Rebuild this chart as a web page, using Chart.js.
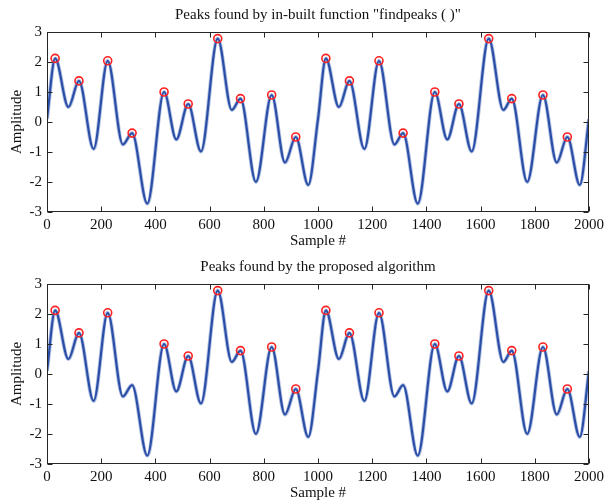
<!DOCTYPE html>
<html>
<head>
<meta charset="utf-8">
<script src="https://cdn.jsdelivr.net/npm/chart.js@4.4.1/dist/chart.umd.min.js"></script>
<style>
  html, body { margin: 0; padding: 0; background: #fff; }
  canvas { display: block; }
</style>
</head>
<body>
<canvas id="topChart" width="608" height="252"></canvas>
<canvas id="bottomChart" width="608" height="252"></canvas>
<script>
// Signal turning points (sample index, amplitude)
const sampleIdx = [0, 30, 79, 118, 172, 224, 280, 314, 370, 432, 477, 521, 568, 630, 682, 714, 771, 829, 878, 918, 964,
                   1000, 1029, 1077, 1116, 1171, 1225, 1282, 1314, 1368, 1431, 1477, 1520, 1567, 1630, 1684, 1715, 1772, 1830, 1881, 1920, 1966, 2000];
const amplitude = [0.1, 2.12, 0.5, 1.37, -0.9, 2.04, -0.75, -0.37, -2.72, 1.0, -0.58, 0.6, -0.98, 2.78, 0.4, 0.78, -2.0, 0.9, -1.35, -0.5, -2.1,
                   0.1, 2.12, 0.5, 1.37, -0.9, 2.04, -0.75, -0.37, -2.72, 1.0, -0.58, 0.6, -0.98, 2.78, 0.4, 0.78, -2.0, 0.9, -1.35, -0.5, -2.1, 0.1];

// peaks marked by findpeaks()
const topPeakIdx = [30, 118, 224, 314, 432, 521, 630, 714, 829, 918, 1029, 1116, 1225, 1314, 1431, 1520, 1630, 1715, 1830, 1920];
const topPeakAmp = [2.12, 1.37, 2.04, -0.37, 1.0, 0.6, 2.78, 0.78, 0.9, -0.5, 2.12, 1.37, 2.04, -0.37, 1.0, 0.6, 2.78, 0.78, 0.9, -0.5];

// peaks marked by the proposed algorithm
const botPeakIdx = [30, 118, 224, 432, 521, 630, 714, 829, 918, 1029, 1116, 1225, 1431, 1520, 1630, 1715, 1830, 1920];
const botPeakAmp = [2.12, 1.37, 2.04, 1.0, 0.6, 2.78, 0.78, 0.9, -0.5, 2.12, 1.37, 2.04, 1.0, 0.6, 2.78, 0.78, 0.9, -0.5];

const xTicks = [0, 200, 400, 600, 800, 1000, 1200, 1400, 1600, 1800, 2000];
const yTicks = [-3, -2, -1, 0, 1, 2, 3];

const serif = '"Liberation Serif", "Times New Roman", serif';

// axes box with inward ticks on all four sides, title centred over the axes
const frame = {
  id: 'frame',
  afterDatasetsDraw(chart, args, opts) {
    const { ctx, chartArea: a, scales } = chart;
    const L = Math.round(a.left) + 0.5, R = Math.round(a.right) - 0.5;
    const T = Math.round(a.top) + 0.5, B = Math.round(a.bottom) - 0.5;
    ctx.save();
    ctx.strokeStyle = '#262626';
    ctx.lineWidth = 1;
    ctx.strokeRect(L, T, R - L, B - T);
    ctx.beginPath();
    scales.x.ticks.forEach(t => {
      const px = Math.round(scales.x.getPixelForValue(t.value)) + 0.5;
      ctx.moveTo(px, B); ctx.lineTo(px, B - 5);
      ctx.moveTo(px, T); ctx.lineTo(px, T + 5);
    });
    scales.y.ticks.forEach(t => {
      const py = Math.round(scales.y.getPixelForValue(t.value)) + 0.5;
      ctx.moveTo(L, py); ctx.lineTo(L + 5, py);
      ctx.moveTo(R, py); ctx.lineTo(R - 5, py);
    });
    ctx.stroke();
    ctx.fillStyle = '#111';
    ctx.font = '15px ' + serif;
    ctx.textAlign = 'center';
    ctx.textBaseline = 'middle';
    ctx.fillText(opts.text, (a.left + a.right) / 2, 15);
    ctx.restore();
  }
};

function makeChart(id, title, peakIdx, peakAmp) {
  const signal = () => sampleIdx.map((s, i) => ({ x: s, y: amplitude[i] }));
  const peaks = peakIdx.map((s, i) => ({ x: s, y: peakAmp[i] }));
  return new Chart(document.getElementById(id), {
    type: 'line',
    data: {
      datasets: [
        {
          data: peaks,
          order: 0,
          showLine: false,
          pointStyle: 'circle',
          pointRadius: 4,
          pointBorderWidth: 1.6,
          pointBorderColor: '#ff2020',
          pointBackgroundColor: 'rgba(0,0,0,0)'
        },
        {
          data: signal(),
          order: 1,
          borderColor: '#2b4ea6',
          borderWidth: 2.2,
          pointRadius: 0,
          cubicInterpolationMode: 'monotone'
        },
        {
          data: signal(),
          order: 2,
          borderColor: '#b4c3e4',
          borderWidth: 4,
          pointRadius: 0,
          cubicInterpolationMode: 'monotone'
        }
      ]
    },
    options: {
      responsive: false,
      animation: false,
      layout: { padding: { left: 0, right: 15, top: 32, bottom: 0 } },
      plugins: {
        legend: { display: false },
        tooltip: { enabled: false },
        title: { display: false },
        frame: { text: title }
      },
      scales: {
        x: {
          type: 'linear',
          min: 0, max: 2000,
          afterBuildTicks: s => { s.ticks = xTicks.map(v => ({ value: v })); },
          afterFit: s => { s.height = 40; },
          grid: { display: false, drawTicks: false },
          border: { display: false },
          ticks: { color: '#111', padding: 4, maxRotation: 0, autoSkip: false, font: { family: serif, size: 15 },
                   callback: v => String(v) },
          title: { display: true, text: 'Sample #', color: '#111', font: { family: serif, size: 15 }, padding: { top: 0, bottom: 2 } }
        },
        y: {
          type: 'linear',
          min: -3, max: 3,
          afterBuildTicks: s => { s.ticks = yTicks.map(v => ({ value: v })); },
          afterFit: s => { s.width = 47; },
          grid: { display: false, drawTicks: false },
          border: { display: false },
          ticks: { color: '#111', padding: 5, font: { family: serif, size: 15 }, callback: v => String(v) },
          title: { display: true, text: 'Amplitude', color: '#111', font: { family: serif, size: 15 }, padding: { top: 8, bottom: 0 } }
        }
      }
    },
    plugins: [frame]
  });
}

makeChart('topChart', 'Peaks found by in-built function "findpeaks ( )"', topPeakIdx, topPeakAmp);
makeChart('bottomChart', 'Peaks found by the proposed algorithm', botPeakIdx, botPeakAmp);
</script>
</body>
</html>
